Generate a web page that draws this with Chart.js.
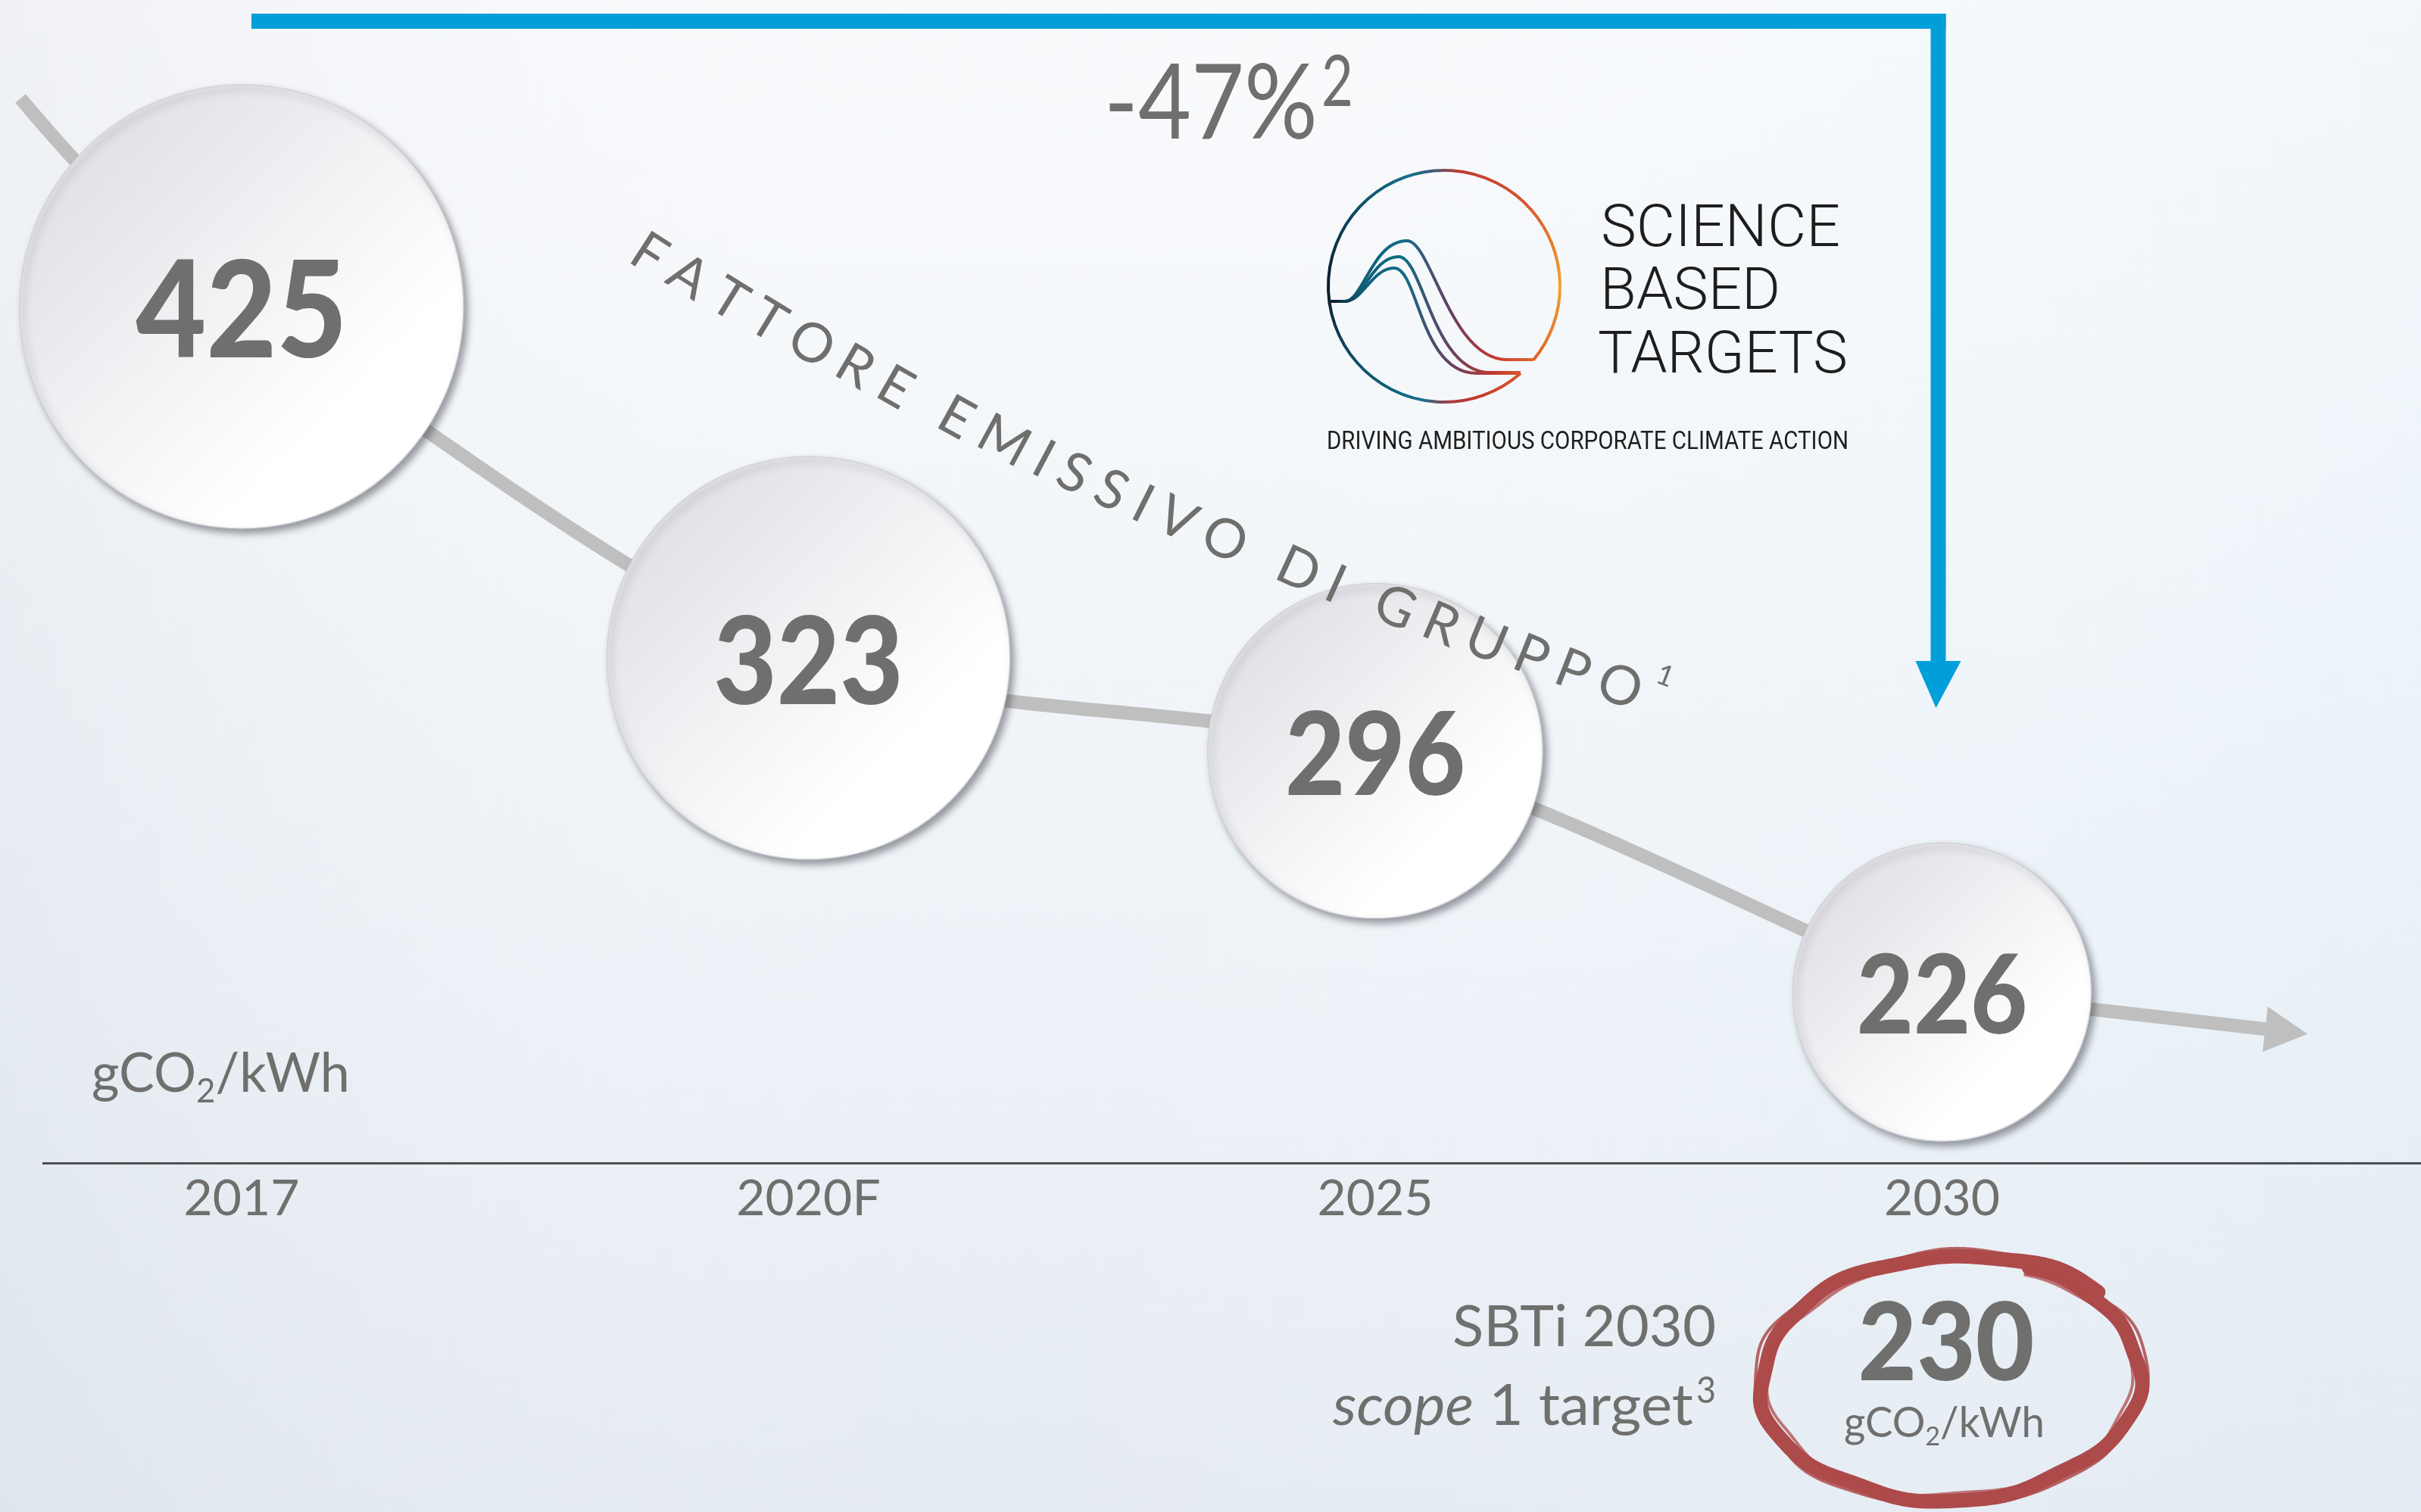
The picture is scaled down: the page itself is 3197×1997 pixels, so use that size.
<!DOCTYPE html>
<html lang="it">
<head>
<meta charset="utf-8">
<title>Fattore emissivo di Gruppo</title>
<script src="https://cdn.jsdelivr.net/npm/chart.js@4.4.1/dist/chart.umd.min.js"></script>
<style>
  html, body { margin: 0; padding: 0; background: #f4f7fa; overflow: hidden; }
  #wrap { width: 3197px; height: 1997px; }
</style>
</head>
<body>
<div id="wrap"><canvas id="emission-chart" width="3197" height="1997"></canvas></div>
<script>
'use strict';

//***********Data***********
let yearLabels = ['2017', '2020F', '2025', '2030'];
let emissionValues = [425, 323, 296, 226];
let targetLabel = 'SBTi 2030';
let targetValue = 230;
let reductionLabel = '-47%';
let curveTitle = 'FATTORE EMISSIVO DI GRUPPO';

//***********Style***********
let circleRadius = [293, 266, 221, 197];
let valueFontSize = [178, 160, 152, 144];
let textGrey = '#6f6f6d';
let lineGrey = '#bfbfbf';
let blue = '#009fda';

//***********Helpers***********
function fillTextWidth(c, text, x, y, width, align) {
  let w = c.measureText(text).width;
  c.save();
  c.translate(x, y);
  c.scale(width / w, 1);
  c.textAlign = align || 'left';
  c.fillText(text, 0, 0);
  c.restore();
}

function drawUnit(c, x, y, size, width) {
  c.save();
  let big = size + 'px Lato';
  let small = Math.round(size * 0.62) + 'px Lato';
  c.font = big;
  let wA = c.measureText('gCO').width;
  let wB = c.measureText('/kWh').width;
  c.font = small;
  let wS = c.measureText('2').width;
  c.translate(x, y);
  c.scale(width / (wA + wS + wB), 1);
  c.textAlign = 'left';
  c.textBaseline = 'alphabetic';
  c.fillStyle = textGrey;
  c.font = big;
  c.fillText('gCO', 0, 0);
  c.fillText('/kWh', wA + wS, 0);
  c.font = small;
  c.fillText('2', wA, size * 0.2);
  c.restore();
}

function circleFill(ctx) {
  if (ctx.type !== 'data' || !ctx.parsed) return '#ffffff';
  let chart = ctx.chart;
  let px = chart.scales.x.getPixelForValue(ctx.parsed.x);
  let py = chart.scales.y.getPixelForValue(ctx.parsed.y);
  let r = circleRadius[ctx.dataIndex];
  if (!isFinite(px) || !isFinite(py) || !isFinite(r)) return '#f4f4f6';
  let g = chart.ctx.createLinearGradient(px - r * 0.8, py - r * 0.8, px + r * 0.45, py + r * 0.45);
  g.addColorStop(0, '#dfdee4');
  g.addColorStop(0.55, '#f1f1f4');
  g.addColorStop(1, '#ffffff');
  return g;
}

function drawCurvedText(c, text, p0, cp, p2) {
  let samples = [];
  let len = 0;
  let prev = null;
  for (let i = 0; i <= 800; i++) {
    let t = i / 800, u = 1 - t;
    let x = u * u * p0.x + 2 * u * t * cp.x + t * t * p2.x;
    let y = u * u * p0.y + 2 * u * t * cp.y + t * t * p2.y;
    if (prev) len += Math.hypot(x - prev.x, y - prev.y);
    let dx = 2 * u * (cp.x - p0.x) + 2 * t * (p2.x - cp.x);
    let dy = 2 * u * (cp.y - p0.y) + 2 * t * (p2.y - cp.y);
    samples.push({ x: x, y: y, s: len, a: Math.atan2(dy, dx) });
    prev = { x: x, y: y };
  }
  let chars = [...text];
  let widths = chars.map(ch => c.measureText(ch).width);
  let total = widths.reduce((a, b) => a + b, 0);
  let gap = (len - total + widths[0] / 2 + widths[widths.length - 1] / 2) / (chars.length - 1);
  let s = 0;
  chars.forEach((ch, i) => {
    if (i > 0) s += widths[i - 1] / 2 + gap + widths[i] / 2;
    let p = samples.find(q => q.s >= s) || samples[samples.length - 1];
    c.save();
    c.translate(p.x, p.y);
    c.rotate(p.a + 0.05);
    c.fillText(ch, 0, 0);
    c.restore();
  });
}

function drawSbtLogo(c) {
  let cx = 1907, cy = 378, r = 153;
  c.save();
  c.lineWidth = 4;
  let ring = c.createConicGradient(0, cx, cy);
  ring.addColorStop(0, '#f2a329');
  ring.addColorStop(0.1, '#e0672c');
  ring.addColorStop(0.2, '#c43a2e');
  ring.addColorStop(0.245, '#a63a45');
  ring.addColorStop(0.28, '#16708a');
  ring.addColorStop(0.4, '#0f4a62');
  ring.addColorStop(0.5, '#0c1a28');
  ring.addColorStop(0.62, '#0f4e68');
  ring.addColorStop(0.7, '#137089');
  ring.addColorStop(0.735, '#3d5d7a');
  ring.addColorStop(0.77, '#c03a32');
  ring.addColorStop(0.88, '#d9582d');
  ring.addColorStop(1, '#f2a329');
  c.strokeStyle = ring;
  c.beginPath();
  c.arc(cx, cy, r, 0.85, 0.69 + Math.PI * 2);
  c.stroke();

  let wg = c.createLinearGradient(1757, 0, 2025, 0);
  wg.addColorStop(0, '#0c1a28');
  wg.addColorStop(0.15, '#0f5e78');
  wg.addColorStop(0.35, '#0f6d88');
  wg.addColorStop(0.6, '#6a3f5f');
  wg.addColorStop(0.8, '#c2392f');
  wg.addColorStop(1, '#e0672c');
  c.strokeStyle = wg;
  let waves = [
    { peak: [1858, 318], end: [1990, 475], tail: 2025 },
    { peak: [1847, 339], end: [1967, 492], tail: 2008 },
    { peak: [1841, 354], end: [1950, 493], tail: 2008 }
  ];
  waves.forEach(w => {
    c.beginPath();
    c.moveTo(1756, 398);
    c.lineTo(1776, 398);
    c.bezierCurveTo(1800, 398, 1812, w.peak[1], w.peak[0], w.peak[1]);
    c.bezierCurveTo(w.peak[0] + 32, w.peak[1], w.end[0] - 75, w.end[1], w.end[0], w.end[1]);
    c.lineTo(w.tail, w.end[1]);
    c.stroke();
  });

  c.fillStyle = '#1e1e1e';
  c.textBaseline = 'alphabetic';
  c.font = '300 78px Roboto';
  fillTextWidth(c, 'SCIENCE', 2114, 325, 316);
  fillTextWidth(c, 'BASED', 2113, 408, 238);
  fillTextWidth(c, 'TARGETS', 2110, 492, 330);
  c.font = '400 33px Roboto';
  fillTextWidth(c, 'DRIVING AMBITIOUS CORPORATE CLIMATE ACTION', 1752, 593, 689);
  c.restore();
}

function drawBrushRing(c, cx, cy, rx, ry) {
  c.save();
  c.translate(cx, cy);
  c.rotate(-0.05);
  c.strokeStyle = '#ad4a4a';
  c.lineCap = 'round';
  c.lineJoin = 'round';
  let start = -1.12;
  let end = start + Math.PI * 2 + 0.42;
  let passes = [
    { w: 19, off: 0, a: 1 },
    { w: 4, off: 9, a: 0.85 },
    { w: 4, off: -9, a: 0.75 }
  ];
  passes.forEach(ps => {
    c.globalAlpha = ps.a;
    c.lineWidth = ps.w;
    c.beginPath();
    for (let i = 0; i <= 360; i++) {
      let f = i / 360;
      let a = start + (end - start) * f;
      let wob = 3 * Math.sin(a * 5 + ps.off) + 2 * Math.sin(a * 11);
      let grow = f * 14;
      let x = (rx + ps.off + wob + grow) * Math.cos(a);
      let y = (ry + ps.off * 0.7 + wob * 0.7 + grow * 0.6) * Math.sin(a);
      if (i === 0) c.moveTo(x, y);
      else c.lineTo(x, y);
    }
    c.stroke();
  });
  c.restore();
}

//***********Plugins***********
let backgroundPlugin = {
  id: 'background',
  beforeDraw(chart) {
    let c = chart.ctx, w = chart.width, h = chart.height;
    c.save();
    let g = c.createLinearGradient(0, 0, 0, h);
    g.addColorStop(0, '#f9fafc');
    g.addColorStop(0.3, '#f4f7fa');
    g.addColorStop(0.65, '#ecf2f7');
    g.addColorStop(1, '#e5ebf2');
    c.fillStyle = g;
    c.fillRect(0, 0, w, h);
    let g2 = c.createLinearGradient(0, 0, w, 0);
    g2.addColorStop(0, 'rgba(205,210,222,0.22)');
    g2.addColorStop(0.4, 'rgba(255,255,255,0)');
    g2.addColorStop(1, 'rgba(222,238,248,0.25)');
    c.fillStyle = g2;
    c.fillRect(0, 0, w, h);
    c.restore();
  }
};

let trendPlugin = {
  id: 'trendDecor',
  beforeDatasetsDraw(chart) {
    let pts = chart.getDatasetMeta(0).data;
    let xs = chart.scales.x;
    let c = chart.ctx;
    let first = pts[0], second = pts[1], last = pts[pts.length - 1];
    c.save();
    c.strokeStyle = lineGrey;
    c.fillStyle = lineGrey;
    c.lineWidth = 18;
    c.lineCap = 'butt';
    // lead-in before the first year
    let dx = second.x - first.x, dy = second.y - first.y, d = Math.hypot(dx, dy);
    c.beginPath();
    c.moveTo(xs.getPixelForValue(-0.39), first.y - 275);
    c.quadraticCurveTo(first.x - dx / d * 150, first.y - dy / d * 150, first.x, first.y);
    c.stroke();
    // arrow after the last year
    let slope = 0.115;
    let baseX = xs.getPixelForValue(3.57), tipX = xs.getPixelForValue(3.645);
    let baseY = last.y + (baseX - last.x) * slope;
    let tipY = last.y + (tipX - last.x) * slope;
    c.beginPath();
    c.moveTo(last.x, last.y);
    c.lineTo(baseX + 2, baseY);
    c.stroke();
    let ang = Math.atan(slope), nx = -Math.sin(ang), ny = Math.cos(ang);
    c.beginPath();
    c.moveTo(baseX + nx * 30, baseY + ny * 30);
    c.lineTo(tipX, tipY);
    c.lineTo(baseX - nx * 30, baseY - ny * 30);
    c.closePath();
    c.fill();
    c.restore();
  },
  beforeDatasetDraw(chart, args) {
    if (args.index !== 1) return;
    let c = chart.ctx;
    c.save();
    c.shadowColor = 'rgba(60,62,70,0.5)';
    c.shadowBlur = 10;
    c.shadowOffsetX = 5;
    c.shadowOffsetY = 6;
  },
  afterDatasetDraw(chart, args) {
    if (args.index !== 1) return;
    chart.ctx.restore();
  }
};

let annotationPlugin = {
  id: 'annotations',
  afterDatasetsDraw(chart) {
    let c = chart.ctx;
    let xs = chart.scales.x;
    let circles = chart.getDatasetMeta(1).data;
    c.save();

    // values inside the circles
    c.fillStyle = textGrey;
    c.textBaseline = 'alphabetic';
    circles.forEach((pt, i) => {
      let size = valueFontSize[i];
      c.font = '900 ' + size + 'px Lato';
      let text = String(emissionValues[i]);
      let w = c.measureText(text).width * 0.9;
      fillTextWidth(c, text, pt.x, pt.y + size * 0.36 + 3, w, 'center');
    });

    // unit on the left
    drawUnit(c, 121, 1442, 72, 341);

    // blue bracket from first to last year
    let x0 = xs.getPixelForValue(0) + 13;
    let vx = xs.getPixelForValue(3) - 5;
    c.fillStyle = blue;
    c.fillRect(x0, 18, vx + 10 - x0, 20);
    c.fillRect(vx - 10, 18, 20, 856);
    c.beginPath();
    c.moveTo(vx - 30, 873);
    c.lineTo(vx + 30, 873);
    c.lineTo(vx - 3, 935);
    c.closePath();
    c.fill();

    // reduction label
    c.fillStyle = textGrey;
    c.font = '138px Lato';
    fillTextWidth(c, reductionLabel, 1458, 183, 282);
    c.font = '93px Lato';
    fillTextWidth(c, '2', 1745, 140, 42);

    // curved title
    c.font = '72px Lato';
    c.textAlign = 'center';
    c.textBaseline = 'middle';
    drawCurvedText(c, curveTitle, { x: 857, y: 336 }, { x: 1469, y: 689 }, { x: 2139, y: 907 });
    c.save();
    c.font = '38px Lato';
    c.translate(2199, 893);
    c.rotate(0.36);
    c.fillText('1', 0, 0);
    c.restore();

    drawSbtLogo(c);

    // SBTi target
    c.fillStyle = textGrey;
    c.textBaseline = 'alphabetic';
    c.textAlign = 'left';
    c.font = '76px Lato';
    fillTextWidth(c, targetLabel, 1918, 1778, 348);
    let reg = ' 1 target';
    c.font = '76px Lato';
    let wReg = c.measureText(reg).width;
    c.font = 'italic 76px Lato';
    let wIt = c.measureText('scope').width;
    let k = (2236 - 1760) / (wReg + wIt);
    c.save();
    c.translate(1760, 1882);
    c.scale(k, 1);
    c.fillText('scope', 0, 0);
    c.font = '76px Lato';
    c.fillText(reg, wIt, 0);
    c.restore();
    c.font = '48px Lato';
    fillTextWidth(c, '3', 2240, 1853, 26);

    drawBrushRing(c, 2579, 1822, 245, 156);
    c.fillStyle = textGrey;
    c.font = '900 143px Lato';
    fillTextWidth(c, String(targetValue), 2570, 1823, 233, 'center');
    drawUnit(c, 2435, 1898, 56, 265);

    c.restore();
  }
};

//***********Chart***********
let points = emissionValues.map((v, i) => ({ x: i, y: v }));
let ctx = document.getElementById('emission-chart').getContext('2d');

new Chart(ctx, {
  type: 'line',
  data: {
    datasets: [
      {
        label: 'trend',
        data: points,
        borderColor: lineGrey,
        borderWidth: 18,
        borderCapStyle: 'butt',
        tension: 0.3,
        pointRadius: 0,
        fill: false,
        clip: false,
        order: 2
      },
      {
        label: 'Fattore emissivo',
        data: points,
        showLine: false,
        pointRadius: circleRadius,
        pointHoverRadius: circleRadius,
        pointBackgroundColor: circleFill,
        pointBorderColor: '#d3d3d9',
        pointBorderWidth: 1.5,
        clip: false,
        order: 1
      }
    ]
  },
  options: {
    responsive: false,
    devicePixelRatio: 1,
    animation: false,
    events: [],
    layout: { autoPadding: false, padding: { left: 57, right: 0, top: 0, bottom: 0 } },
    plugins: {
      legend: { display: false },
      tooltip: { enabled: false }
    },
    scales: {
      x: {
        type: 'linear',
        position: 'bottom',
        min: -0.35,
        max: 3.845,
        grid: { display: false, drawTicks: false },
        border: { display: true, color: '#4f5052', width: 3 },
        afterBuildTicks: axis => {
          axis.ticks = yearLabels.map((_, i) => ({ value: i }));
        },
        afterFit: scale => {
          scale.height = 461;
        },
        ticks: {
          autoSkip: false,
          maxRotation: 0,
          padding: 8,
          color: textGrey,
          font: { family: 'Lato', size: 66 },
          callback: value => yearLabels[value]
        }
      },
      y: {
        type: 'linear',
        display: false,
        min: 176.4,
        max: 514
      }
    }
  },
  plugins: [backgroundPlugin, trendPlugin, annotationPlugin]
});
</script>
</body>
</html>
